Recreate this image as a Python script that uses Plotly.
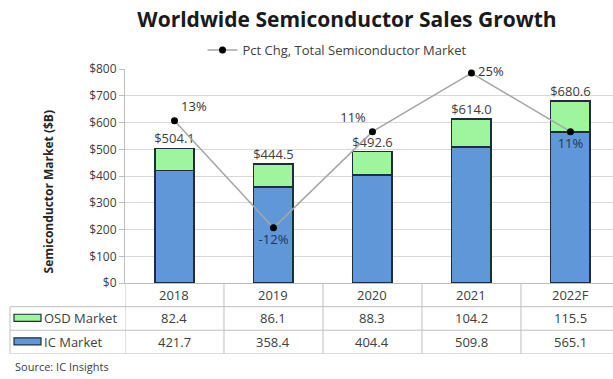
import plotly.graph_objects as go

# ---- data ----
years = ["2018", "2019", "2020", "2021", "2022F"]
ic_market = [421.7, 358.4, 404.4, 509.8, 565.1]
osd_market = [82.4, 86.1, 88.3, 104.2, 115.5]
total_market = [504.1, 444.5, 492.6, 614.0, 680.6]
pct_chg = [13.4, -11.8, 10.8, 24.6, 10.8]
pct_labels = ["13%", "-12%", "11%", "25%", "11%"]
y_ticks = [0, 100, 200, 300, 400, 500, 600, 700, 800]
y_tick_text = [f"${v}" for v in y_ticks]

W, H = 613, 379
FONT = "Open Sans"
TXT = "#404040"
BLUE = "#5f97d9"
GREEN = "#9ef59e"
EDGE = "#1e2d3c"
GRID = "#d9d9d9"
TLINE = "#bfbfbf"

# layout geometry (pixels -> paper)
plot_left, plot_top, plot_bottom, table_bottom = 125, 63, 287, 361
xdom = [plot_left / W, 1.0]
ydom_main = [(H - plot_bottom) / H, (H - plot_top) / H]
ydom_tab = [(H - table_bottom) / H, (H - plot_bottom) / H]
xrange_ = [-0.5, 4.43]
xpos = list(range(len(years)))

fig = go.Figure()
fig.add_trace(go.Bar(x=years, y=ic_market, name="IC Market", marker=dict(color=BLUE, line=dict(color=EDGE, width=1.6)),
                     width=0.4, showlegend=False, xaxis="x", yaxis="y"))
fig.add_trace(go.Bar(x=years, y=osd_market, name="OSD Market", marker=dict(color=GREEN, line=dict(color=EDGE, width=1.6)),
                     width=0.4, showlegend=False, xaxis="x", yaxis="y"))
fig.add_trace(go.Scatter(x=years, y=total_market, mode="markers+text", text=[f"${v:.1f}" for v in total_market],
                         textposition="top center", textfont=dict(family=FONT, size=13, color=TXT),
                         marker=dict(size=1, opacity=0),
                         showlegend=False, cliponaxis=False, xaxis="x", yaxis="y"))
fig.add_trace(go.Scatter(x=years, y=pct_chg, mode="lines+markers", name="Pct Chg, Total Semiconductor Market",
                         line=dict(color="#a6a6a6", width=1.5), marker=dict(color="#000000", size=7),
                         xaxis="x", yaxis="y3", cliponaxis=False))
fig.add_trace(go.Scatter(x=years, y=pct_chg, mode="markers+text", text=pct_labels,
                         marker=dict(size=9, opacity=0),
                         textposition=["top right", "bottom center", "top left", "middle right", "bottom center"],
                         textfont=dict(family=FONT, size=13, color=["#333333", "#1f3558", "#333333", "#333333", "#1f3558"]),
                         showlegend=False, xaxis="x", yaxis="y3", cliponaxis=False))

annotations = [
    dict(text="Semiconductor Market ($B)", xref="paper", yref="paper", x=48 / W, y=(H - 191) / H,
         textangle=-90, showarrow=False, font=dict(family=FONT, size=12, color="#262626", weight="bold"),
         xanchor="center", yanchor="middle"),
    dict(text="Source: IC Insights", xref="paper", yref="paper", x=13 / W, y=(H - 374) / H,
         showarrow=False, font=dict(family=FONT, size=11, color=TXT), xanchor="left", yanchor="middle"),
]
# table: header row (years), OSD row, IC row
for i, yr in enumerate(years):
    annotations.append(dict(text=yr, xref="x2", yref="y2", x=xpos[i], y=0.5, showarrow=False,
                            font=dict(family=FONT, size=13, color=TXT)))
    annotations.append(dict(text=f"{osd_market[i]:.1f}", xref="x2", yref="y2", x=xpos[i], y=1.5, showarrow=False,
                            font=dict(family=FONT, size=13, color=TXT)))
    annotations.append(dict(text=f"{ic_market[i]:.1f}", xref="x2", yref="y2", x=xpos[i], y=2.5, showarrow=False,
                            font=dict(family=FONT, size=13, color=TXT)))
row_names = ["OSD Market", "IC Market"]
row_colors = [GREEN, BLUE]
shapes = []
for r, (nm, col) in enumerate(zip(row_names, row_colors)):
    yc = 1.5 + r
    annotations.append(dict(text=nm, xref="paper", yref="y2", x=42 / W, y=yc, showarrow=False,
                            xanchor="left", font=dict(family=FONT, size=13, color=TXT)))
    shapes.append(dict(type="rect", xref="paper", yref="y2", x0=14 / W, x1=41 / W, y0=yc - 0.18, y1=yc + 0.12,
                       fillcolor=col, line=dict(color=EDGE, width=1.2)))
# horizontal table lines
for yl in [1, 2, 3]:
    shapes.append(dict(type="line", xref="paper", yref="y2", x0=10 / W, x1=1, y0=yl, y1=yl,
                       line=dict(color=TLINE, width=1)))
# left border of label column
shapes.append(dict(type="line", xref="paper", yref="y2", x0=10 / W, x1=10 / W, y0=1, y1=3,
                   line=dict(color=TLINE, width=1)))
# vertical dividers between categories
for k in xpos:
    shapes.append(dict(type="line", xref="x2", yref="y2", x0=k - 0.5, x1=k - 0.5, y0=0, y1=3,
                       line=dict(color=TLINE, width=1)))

fig.update_layout(
    width=W, height=H, barmode="stack",
    margin=dict(l=0, r=0, t=0, b=0),
    paper_bgcolor="white", plot_bgcolor="white",
    font=dict(family=FONT, color=TXT),
    title=dict(text="<b>Worldwide Semiconductor Sales Growth</b>", x=347 / W, xanchor="center",
               y=(H - 20) / H, yanchor="middle", font=dict(family=FONT, size=21, color="#1a1a1a")),
    legend=dict(orientation="h", x=337 / W, xanchor="center", y=(H - 43) / H, yanchor="middle",
                font=dict(family=FONT, size=13, color=TXT), bgcolor="rgba(0,0,0,0)", itemwidth=30),
    xaxis=dict(type="category", domain=xdom, range=xrange_, showticklabels=False, ticks="",
               showline=True, linecolor=TLINE, showgrid=False, anchor="y"),
    yaxis=dict(domain=ydom_main, range=[0, 800], tickmode="array", tickvals=y_ticks, ticktext=y_tick_text,
               showline=True, linecolor=TLINE, ticks="outside", ticklen=5, tickcolor=TLINE, gridcolor=GRID,
               zeroline=False, tickfont=dict(family=FONT, size=12, color=TXT), anchor="x"),
    yaxis3=dict(overlaying="y", range=[-24.8, 25.5], visible=False, anchor="x"),
    xaxis2=dict(domain=xdom, range=xrange_, visible=False, anchor="y2"),
    yaxis2=dict(domain=ydom_tab, range=[3, 0], visible=False, anchor="x2"),
    annotations=annotations, shapes=shapes,
)
fig.write_html("out.html")
